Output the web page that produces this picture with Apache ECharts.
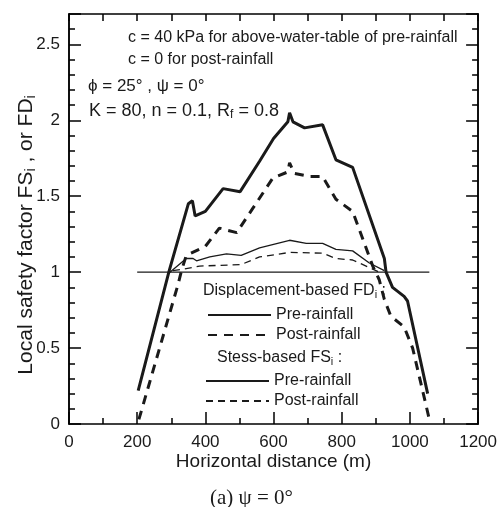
<!DOCTYPE html>
<html>
<head>
<meta charset="utf-8">
<script src="https://cdn.jsdelivr.net/npm/echarts@6/dist/echarts.min.js"></script>
<style>
  html, body { margin: 0; padding: 0; background: #fff; }
  #chart { width: 500px; height: 507px; }
</style>
</head>
<body>
<div id="chart"></div>
<script>
// [distance (m), local safety factor]
const preFD = [[203,0.22],[294,1.01],[350,1.45],[362,1.47],[370,1.37],[400,1.40],[452,1.55],[502,1.53],
  [559,1.73],[600,1.88],[642,1.99],[647,2.05],[657,1.99],[691,1.95],[744,1.97],[783,1.74],[832,1.69],
  [925,1.09],[930,1.00],[949,0.90],[983,0.84],[993,0.81],[1052,0.20]];
const postFD = [[205,0.03],[320,0.92],[330,1.01],[344,1.11],[400,1.17],[441,1.29],[492,1.26],[539,1.42],
  [598,1.62],[642,1.66],[647,1.72],[661,1.65],[705,1.63],[744,1.63],[783,1.48],[832,1.40],[891,1.04],
  [910,0.95],[925,0.82],[944,0.71],[983,0.64],[1008,0.50],[1057,0.03]];
const preFS = [[296,1.00],[344,1.09],[364,1.09],[374,1.075],[413,1.10],[462,1.12],[505,1.11],[559,1.16],
  [647,1.21],[696,1.19],[744,1.19],[783,1.15],[832,1.14],[881,1.06],[925,1.01]];
const postFS = [[305,1.01],[335,1.02],[383,1.04],[505,1.05],[559,1.10],[647,1.13],[744,1.125],[783,1.09],
  [832,1.08],[891,1.02],[910,1.00]];
const unityLine = [[200,1],[1057,1]];

const xTicks = { min: 0, max: 1200, major: 200, minor: 100 };
const yTicks = { min: 0, max: 2.7, major: 0.5, minor: 0.1 };

const ink = "#1a1a1a";
const font = "Liberation Sans";

const chart = echarts.init(document.getElementById("chart"));

const subStyle = { fontFamily: font, fontSize: 11, fill: ink, padding: [7, 0, 0, 0] };

function tick(len) {
  return { show: true, inside: true, length: len, lineStyle: { color: "#000", width: 1.5 } };
}
function edge() {
  return { show: true, onZero: false, lineStyle: { color: "#000", width: 1.5 } };
}

let option = {
  animation: false,
  grid: { left: 69, right: 21, top: 14, bottom: 83 },
  xAxis: [
    {
      type: "value", min: xTicks.min, max: xTicks.max, interval: xTicks.major, position: "bottom",
      axisLine: edge(),
      axisTick: tick(12),
      minorTick: { show: true, splitNumber: 2, length: 6, lineStyle: { color: "#000", width: 1.5 } },
      axisLabel: { show: true, margin: 10, color: ink, fontFamily: font, fontSize: 17, formatter: v => String(v) },
      splitLine: { show: false },
      name: "Horizontal distance (m)",
      nameLocation: "middle",
      nameGap: 28,
      nameMoveOverlap: false,
      nameTextStyle: { color: ink, fontFamily: font, fontSize: 19 }
    },
    {
      type: "value", min: xTicks.min, max: xTicks.max, interval: xTicks.minor, position: "top",
      axisLine: edge(),
      axisTick: tick(7),
      axisLabel: { show: false },
      splitLine: { show: false }
    }
  ],
  yAxis: [
    {
      type: "value", min: yTicks.min, max: yTicks.max, interval: yTicks.major, position: "left",
      axisLine: edge(),
      axisTick: tick(12),
      splitLine: { show: false },
      axisLabel: {
        show: true, margin: 9, color: ink, fontFamily: font, fontSize: 17,
        formatter: v => (Math.abs(v / yTicks.major - Math.round(v / yTicks.major)) < 1e-6 ? String(v) : "")
      },
      name: "Local safety factor FS{s|i} , or FD{s|i}",
      nameLocation: "middle",
      nameGap: 31,
      nameMoveOverlap: false,
      nameTextStyle: {
        color: ink, fontFamily: font, fontSize: 21, padding: [0, 32, 0, 0],
        rich: { s: { fontFamily: font, fontSize: 14, color: ink, padding: [9, 0, 0, 0] } }
      }
    },
    {
      type: "value", min: yTicks.min, max: yTicks.max, interval: yTicks.minor, position: "left",
      axisLine: edge(), axisTick: tick(6), axisLabel: { show: false }, splitLine: { show: false }
    },
    {
      type: "value", min: yTicks.min, max: yTicks.max, interval: yTicks.major, position: "right",
      axisLine: edge(), axisTick: tick(12), axisLabel: { show: false }, splitLine: { show: false }
    },
    {
      type: "value", min: yTicks.min, max: yTicks.max, interval: yTicks.minor, position: "right",
      axisLine: edge(), axisTick: tick(6), axisLabel: { show: false }, splitLine: { show: false }
    }
  ],
  legend: [
    {
      left: 202, top: 302, orient: "vertical", itemWidth: 63, itemHeight: 14, itemGap: 4,
      selectedMode: false, itemStyle: { opacity: 0 },
      textStyle: { color: ink, fontFamily: font, fontSize: 16 },
      formatter: n => n.split(" ")[0],
      data: ["Pre-rainfall FD", "Post-rainfall FD"]
    },
    {
      left: 200, top: 368, orient: "vertical", itemWidth: 63, itemHeight: 14, itemGap: 4,
      selectedMode: false, itemStyle: { opacity: 0 },
      textStyle: { color: ink, fontFamily: font, fontSize: 16 },
      formatter: n => n.split(" ")[0],
      data: ["Pre-rainfall FS", "Post-rainfall FS"]
    }
  ],
  graphic: [
    { type: "text", left: 128, top: 30, style: { text: "c = 40 kPa for above-water-table of pre-rainfall", font: "16px " + font, fill: ink } },
    { type: "text", left: 128, top: 52, style: { text: "c = 0 for post-rainfall", font: "16px " + font, fill: ink } },
    { type: "text", left: 88, top: 78, style: { text: "ϕ = 25° , ψ = 0°", font: "17px " + font, fill: ink } },
    {
      type: "text", left: 89, top: 102,
      style: { text: "K = 80, n = 0.1, R{s|f} = 0.8", font: "18px " + font, fill: ink, rich: { s: Object.assign({}, subStyle, { fontSize: 12, padding: [8, 0, 0, 0] }) } }
    },
    {
      type: "text", left: 203, top: 283,
      style: { text: "Displacement-based FD{s|i} :", font: "16px " + font, fill: ink, rich: { s: subStyle } }
    },
    {
      type: "text", left: 217, top: 350,
      style: { text: "Stess-based FS{s|i} :", font: "16px " + font, fill: ink, rich: { s: subStyle } }
    },
    { type: "text", left: 210, top: 488, style: { text: "(a) ψ = 0°", font: "21px Liberation Serif", fill: ink } }
  ],
  series: [
    {
      name: "unity", type: "line", data: unityLine, symbol: "none", silent: true,
      lineStyle: { color: ink, width: 1.3 }
    },
    {
      name: "Pre-rainfall FD", type: "line", data: preFD, symbol: "none",
      lineStyle: { color: ink, width: 3 }, itemStyle: { color: ink }
    },
    {
      name: "Post-rainfall FD", type: "line", data: postFD, symbol: "none",
      lineStyle: { color: ink, width: 3, type: [9, 7] }, itemStyle: { color: ink }
    },
    {
      name: "Pre-rainfall FS", type: "line", data: preFS, symbol: "none",
      lineStyle: { color: ink, width: 1.3 }, itemStyle: { color: ink }
    },
    {
      name: "Post-rainfall FS", type: "line", data: postFS, symbol: "none",
      lineStyle: { color: ink, width: 1.3, type: [7, 5] }, itemStyle: { color: ink }
    }
  ]
};

chart.setOption(option);
</script>
</body>
</html>
